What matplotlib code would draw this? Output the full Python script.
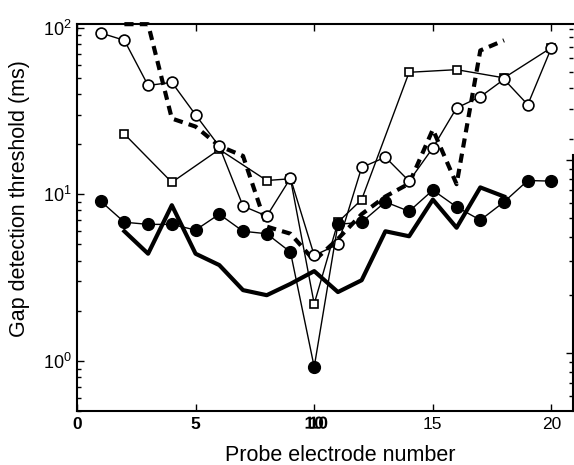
import matplotlib
matplotlib.use("Agg")
import matplotlib.pyplot as plt
import matplotlib.patheffects as pe
from matplotlib.ticker import FixedLocator, LogLocator, NullFormatter, NullLocator

plt.rcParams["font.family"] = ["Liberation Sans", "DejaVu Sans"]
plt.rcParams["mathtext.fontset"] = "custom"
plt.rcParams["mathtext.rm"] = "Liberation Sans"
plt.rcParams["mathtext.it"] = "Liberation Sans:italic"
plt.rcParams["mathtext.bf"] = "Liberation Sans:bold"

# Gap detection thresholds (ms) per probe electrode, one list per condition
electrode = list(range(1, 21))
open_circle = [93, 84, 45, 47, 30, 19.4, 8.5, 7.4, 12.5, 4.3,
               5.0, 14.5, 16.7, 12.0, 19.0, 33, 38.5, 49, 34.5, 76]
filled_circle = [9.1, 6.8, 6.6, 6.6, 6.1, 7.6, 6.0, 5.8, 4.5, 0.92,
                 6.6, 6.8, 9.0, 7.9, 10.6, 8.4, 7.0, 9.0, 12.1, 12.0]

square_x = [2, 4, 6, 8, 9, 10, 11, 12, 14, 16, 18, 20]
square_y = [23, 11.8, 18.6, 12.1, 12.4, 2.2, 6.8, 9.3, 54, 56, 50, 76]

thick_x = list(range(2, 19))
thick_y = [6.0, 4.4, 8.6, 4.4, 3.76, 2.66, 2.48, 2.9, 3.46, 2.59,
           3.05, 6.0, 5.6, 9.3, 6.3, 11.0, 9.7]

dashed_x = list(range(2, 19))
dashed_y = [105, 105, 28.5, 25.5, 19.5, 17.0, 6.4, 5.8, 4.0, 5.4,
            7.6, 9.7, 11.6, 24.5, 11.5, 73, 84]

x_ticks = [0, 5, 10, 15, 20]

fig = plt.figure(figsize=(5.74, 4.65), dpi=100)
ax = fig.add_axes([0.134, 0.116, 0.864, 0.832])

ax.plot(dashed_x, dashed_y, color="black", lw=3.0,
        linestyle=(0, (2.2, 1.5)), clip_on=False, zorder=2)
ax.plot(thick_x, thick_y, color="black", lw=3.0, zorder=2)
ax.plot(square_x, square_y, color="black", lw=1.0, marker="s", ms=6,
        mfc="white", mec="black", mew=1.2, zorder=3)
ax.plot(electrode, open_circle, color="black", lw=1.0, marker="o", ms=7.8,
        mfc="white", mec="black", mew=1.2, zorder=3)
ax.plot(electrode, filled_circle, color="black", lw=1.0, marker="o", ms=8.5,
        mfc="black", mec="black", zorder=4)

ax.set_yscale("log")
ax.set_xlim(0, 20.9)
ax.set_ylim(0.5, 105)

ax.xaxis.set_major_locator(FixedLocator(x_ticks))
ax.set_xticklabels([str(t) for t in x_ticks], fontsize=12.5)
xlabels = ax.get_xticklabels()
for lab in xlabels[:3]:
    lab.set_fontweight("bold")
# "10" is printed twice, slightly shifted
xlabels[2].set_path_effects([
    pe.SimplePatchShadow(offset=(3, 0), shadow_rgbFace="black", alpha=1.0),
    pe.Normal(),
])

ax.yaxis.set_major_locator(FixedLocator([1, 10, 100]))
ax.set_yticklabels([r"$10^{0}$", r"$10^{1}$", r"$10^{2}$"], fontsize=13)
ax.yaxis.set_minor_locator(LogLocator(base=10, subs=range(2, 10)))
ax.yaxis.set_minor_formatter(NullFormatter())

ax.tick_params(axis="x", which="both", direction="in", length=5, width=1,
               top=True, bottom=True, pad=4)
ax.tick_params(axis="y", which="major", direction="in", length=5, width=1,
               left=True, right=False, pad=4)
ax.tick_params(axis="y", which="minor", direction="in", length=3, width=1,
               left=True, right=False)

for side in ["left", "bottom", "top"]:
    ax.spines[side].set_linewidth(1.5)
ax.spines["right"].set_visible(False)

# right edge: two more log scales stacked on each other, ticks only
ax2 = ax.twinx()
ax2.set_yscale("log")
ax2.set_ylim(0.5, 50.7)
ax2.yaxis.set_major_locator(FixedLocator([1, 10]))
ax2.yaxis.set_minor_locator(FixedLocator([0.6, 0.7, 0.8, 0.9] + list(range(2, 10))))
ax2.yaxis.set_major_formatter(NullFormatter())
ax2.yaxis.set_minor_formatter(NullFormatter())
ax2.tick_params(axis="y", which="major", direction="in", length=5, width=1)
ax2.tick_params(axis="y", which="minor", direction="in", length=3, width=1)
for side in ["left", "bottom", "top"]:
    ax2.spines[side].set_visible(False)
ax2.spines["right"].set_bounds(0.5, 10.6)
ax2.spines["right"].set_linewidth(1.5)

ax3 = ax.twinx()
ax3.set_yscale("log")
ax3.set_ylim(0.477, 96)
ax3.yaxis.set_major_locator(NullLocator())
ax3.yaxis.set_minor_locator(FixedLocator(list(range(20, 100, 10))))
ax3.yaxis.set_minor_formatter(NullFormatter())
ax3.tick_params(axis="y", which="minor", direction="in", length=3, width=1)
for side in ["left", "bottom", "top", "right"]:
    ax3.spines[side].set_visible(False)

ax.set_xlabel("Probe electrode number", fontsize=15.5)
ax.xaxis.set_label_coords(0.53, -0.087)
ax.set_ylabel("Gap detection threshold (ms)", fontsize=15.5)
ax.yaxis.set_label_coords(-0.095, 0.55)

fig.savefig("out.png", dpi=100)
